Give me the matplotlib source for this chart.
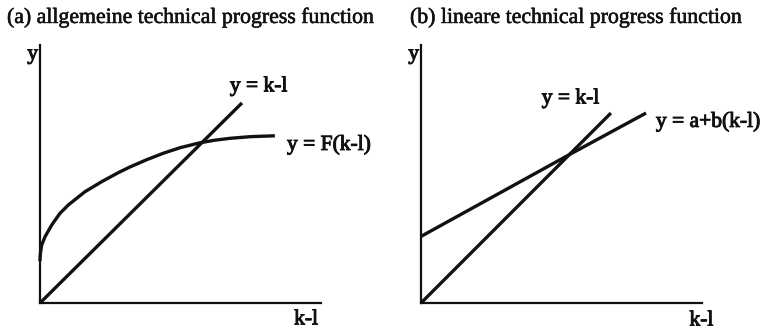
import matplotlib
matplotlib.use("Agg")
import matplotlib.pyplot as plt
import matplotlib.patheffects as pe

plt.rcParams['font.family'] = ['Liberation Serif', 'DejaVu Serif']

# ---- data (x-axis length = 10 units) ----
titles = ["(a) allgemeine technical progress function",
          "(b) lineare technical progress function"]

# panel a: y = k-l
a_line_x = [0.0, 7.19]
a_line_y = [0.0, 7.12]
# panel a: y = F(k-l)
a_curve_x = [0.0, 0.005, 0.02, 0.06, 0.18, 0.42, 0.71, 1.01, 1.60, 2.20, 2.79, 3.20,
             3.80, 4.39, 5.00, 5.69, 6.20, 6.76, 7.50, 8.36]
a_curve_y = [1.49, 1.64, 1.80, 2.06, 2.36, 2.78, 3.19, 3.49, 3.96, 4.32, 4.64, 4.84,
             5.10, 5.33, 5.53, 5.70, 5.79, 5.86, 5.92, 5.95]

# panel b: y = k-l
b_line_x = [0.0, 6.76]
b_line_y = [0.0, 6.76]
# panel b: y = a+b(k-l)
b_lin_x = [0.0, 5.28, 8.01]
b_lin_y = [2.37, 5.28, 6.76]

labels_a = ["y = k-l", "y = F(k-l)"]
labels_b = ["y = k-l", "y = a+b(k-l)"]

fig = plt.figure(figsize=(7.66, 3.32), dpi=100)

ax1 = fig.add_axes([0.0522, 0.0873, 0.3668, 0.7771])
ax2 = fig.add_axes([0.5496, 0.0873, 0.3668, 0.7771])

for ax in (ax1, ax2):
    ax.set_xlim(0, 10)
    ax.set_ylim(0, 9.18)
    for s in ['top', 'right']:
        ax.spines[s].set_visible(False)
    for s in ['left', 'bottom']:
        ax.spines[s].set_linewidth(1.6)
        ax.spines[s].set_color('#111111')
    ax.set_xticks([])
    ax.set_yticks([])
    ax.patch.set_alpha(0)

lc = '#111111'
ax1.plot(a_line_x, a_line_y, color=lc, lw=2.4, solid_capstyle='butt', clip_on=False)
ax1.plot(a_curve_x, a_curve_y, color=lc, lw=2.4, solid_capstyle='butt',
         solid_joinstyle='round', clip_on=False)
ax2.plot(b_line_x, b_line_y, color=lc, lw=2.4, solid_capstyle='butt', clip_on=False)
ax2.plot(b_lin_x, b_lin_y, color=lc, lw=2.4, solid_capstyle='butt',
         solid_joinstyle='round', clip_on=False)

bold = [pe.withStroke(linewidth=0.7, foreground=lc)]
fs = 15.5
ax1.text(7.78, 7.69, labels_a[0], ha='center', va='center', fontsize=fs, color=lc, path_effects=bold)
ax1.text(8.79, 5.62, labels_a[1], ha='left', va='center', fontsize=fs, color=lc, path_effects=bold)
ax2.text(5.32, 7.26, labels_b[0], ha='center', va='center', fontsize=fs, color=lc, path_effects=bold)
ax2.text(8.36, 6.44, labels_b[1], ha='left', va='center', fontsize=fs, color=lc, path_effects=bold)

for ax, kx, ky in ((ax1, 9.47, -0.6), (ax2, 9.98, -0.64)):
    ax.text(-0.26, 8.83, "y", ha='center', va='center', fontsize=fs, color=lc, path_effects=bold)
    ax.text(kx, ky, "k-l", ha='center', va='center', fontsize=fs, color=lc, path_effects=bold)

thin = [pe.withStroke(linewidth=0.4, foreground=lc)]
fig.text(7 / 766, 1 - 18 / 332, titles[0], ha='left', va='center', fontsize=15.7,
         color=lc, path_effects=thin)
fig.text(410 / 766, 1 - 18 / 332, titles[1], ha='left', va='center', fontsize=15.7,
         color=lc, path_effects=thin)

fig.savefig("out.png", dpi=100)
